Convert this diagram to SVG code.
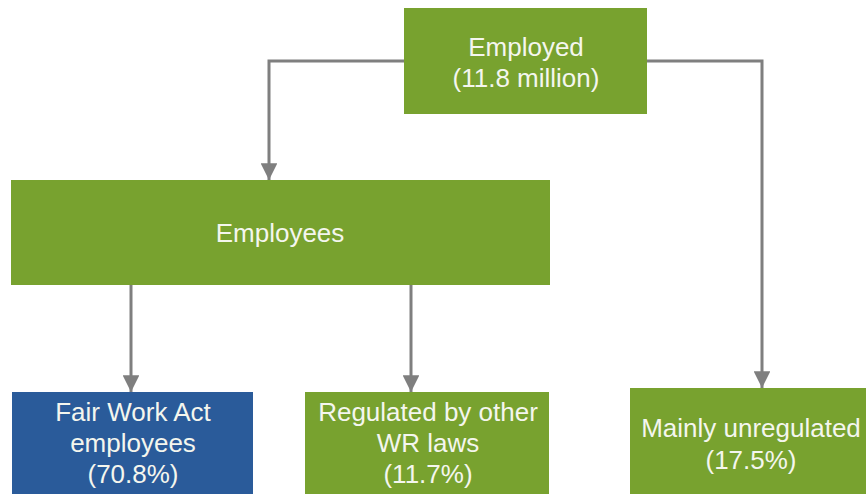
<svg xmlns="http://www.w3.org/2000/svg" width="866" height="494" viewBox="0 0 866 494">
<style>
.g{fill:#78a22f}
.b{fill:#2a5b9a}
.t{fill:#f4f6ee;font-family:"Liberation Sans",Arial,sans-serif;font-size:26px;text-anchor:middle}
.s{font-size:26px}
.c{fill:none;stroke:#7f7f7f;stroke-width:3}
</style>
<defs>
<marker id="ah" viewBox="0 0 10 10" refX="10" refY="5" markerWidth="6" markerHeight="5.6" markerUnits="strokeWidth" orient="auto">
<path d="M0,0 L10,5 L0,10 Z" fill="#7f7f7f"/>
</marker>
</defs>
<g id="connectors">
<path class="c" d="M404,61 H269 V180" marker-end="url(#ah)"/>
<path class="c" d="M647,61 H762 V388" marker-end="url(#ah)"/>
<path class="c" d="M131,285 V392" marker-end="url(#ah)"/>
<path class="c" d="M411,285 V392" marker-end="url(#ah)"/>
</g>
<g id="employed">
<rect class="g" x="404" y="8" width="243" height="106"/>
<text class="t" x="526" y="56">Employed</text>
<text class="t" x="526" y="87">(11.8 million)</text>
</g>
<g id="employees">
<rect class="g" x="11" y="180" width="539" height="105"/>
<text class="t" x="280" y="242">Employees</text>
</g>
<g id="fairwork">
<rect class="b" x="12" y="392" width="241" height="102"/>
<text class="t s" x="133" y="421">Fair Work Act</text>
<text class="t s" x="133" y="452">employees</text>
<text class="t s" x="133" y="483">(70.8%)</text>
</g>
<g id="regulated">
<rect class="g" x="305" y="392" width="244" height="102"/>
<text class="t s" x="428" y="421">Regulated by other</text>
<text class="t s" x="428" y="452">WR laws</text>
<text class="t s" x="428" y="483">(11.7%)</text>
</g>
<g id="unregulated">
<rect class="g" x="630" y="388" width="236" height="106"/>
<text class="t s" x="751" y="437">Mainly unregulated</text>
<text class="t s" x="751" y="469">(17.5%)</text>
</g>
</svg>
